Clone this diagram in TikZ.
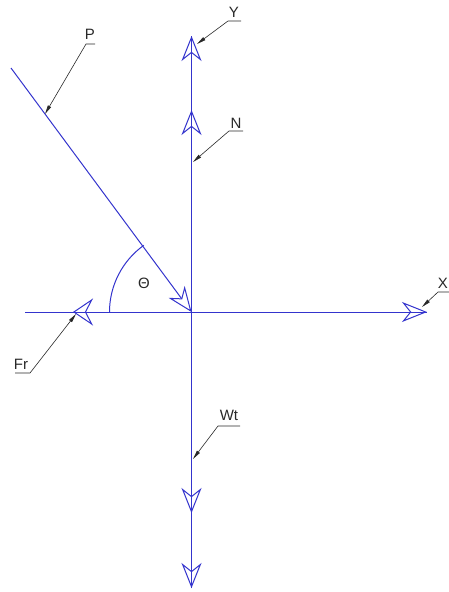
\documentclass[tikz,border=0pt]{standalone}
\usepackage{fontspec}
\setmainfont{Liberation Sans}
\usetikzlibrary{arrows.meta}
\definecolor{forceblue}{RGB}{52,52,205}
\definecolor{leadgray}{RGB}{40,40,40}
\tikzset{
  force/.style={draw=forceblue, line width=1pt},
  headtip/.style={-{Stealth[open, length=25pt, width=20pt, inset=8pt, line width=1pt]}},
  frtip/.style={-{Stealth[open, length=20pt, width=27pt, inset=7pt, line width=1pt]}},
  leader/.style={draw=leadgray, line width=0.6pt, {Triangle[length=9pt, width=3.5pt]}-},
  lab/.style={text=leadgray, font=\fontsize{15}{15}\selectfont, inner sep=0pt}
}
\begin{document}
\begin{tikzpicture}[x=1pt, y=-1pt]
\useasboundingbox (0,0) rectangle (449,592);
\clip (0,0) rectangle (449,592);
% key points
\coordinate (O) at (191.5,312);
\coordinate (Ytop) at (191.5,36);
\coordinate (Ntip) at (191.5,110);
\coordinate (Wtip) at (191.5,513);
\coordinate (Bot) at (191.5,588);
\coordinate (Xtip) at (427,312);
\coordinate (Frtip) at (73,312);
\coordinate (Lend) at (25,312);
\coordinate (Pstart) at (11,68);
% axes and forces
\draw[force] (Lend) -- (Xtip);
\draw[force] (Ytop) -- (Bot);
\draw[force, headtip] (O) -- (Ytop);
\draw[force, headtip] (O) -- (Ntip);
\draw[force, headtip] (O) -- (Wtip);
\draw[force, headtip] (O) -- (Bot);
\draw[force, headtip] (O) -- (Xtip);
\draw[force, frtip] (O) -- (Frtip);
\draw[force, headtip] (Pstart) -- (O);
% angle arc
\draw[force] (109.5,312) arc[start angle=180, end angle=234.4, radius=82];
\node[lab] (th) at (144,283) {Θ};
% labels with leaders
\node[lab] (Ylab) at (234,12) {Y};
\coordinate (Yu1) at (228,21); \coordinate (Yu2) at (241,21); \coordinate (Ylt) at (197,44);
\draw[leader] (Ylt) -- (Yu1) -- (Yu2);
\node[lab] (Nlab) at (236,123) {N};
\coordinate (Nu1) at (229,131); \coordinate (Nu2) at (243,131); \coordinate (Nlt) at (193,162);
\draw[leader] (Nlt) -- (Nu1) -- (Nu2);
\node[lab, anchor=east] (Xlab) at (448,283) {X};
\coordinate (Xu1) at (438,292); \coordinate (Xu2) at (449,292); \coordinate (Xlt) at (422,307);
\draw[leader] (Xlt) -- (Xu1) -- (Xu2);
\node[lab] (Plab) at (90,34) {P};
\coordinate (Pu1) at (86,44); \coordinate (Pu2) at (95,44); \coordinate (Plt) at (45,114);
\draw[leader] (Plt) -- (Pu1) -- (Pu2);
\node[lab] (Frlab) at (21,364) {Fr};
\coordinate (Fu1) at (30,373); \coordinate (Fu2) at (15,373); \coordinate (Flt) at (76,314);
\draw[leader] (Flt) -- (Fu1) -- (Fu2);
\node[lab] (Wlab) at (229,415) {Wt};
\coordinate (Wu1) at (218,426); \coordinate (Wu2) at (240,426); \coordinate (Wlt) at (193,459);
\draw[leader] (Wlt) -- (Wu1) -- (Wu2);
\end{tikzpicture}
\end{document}
